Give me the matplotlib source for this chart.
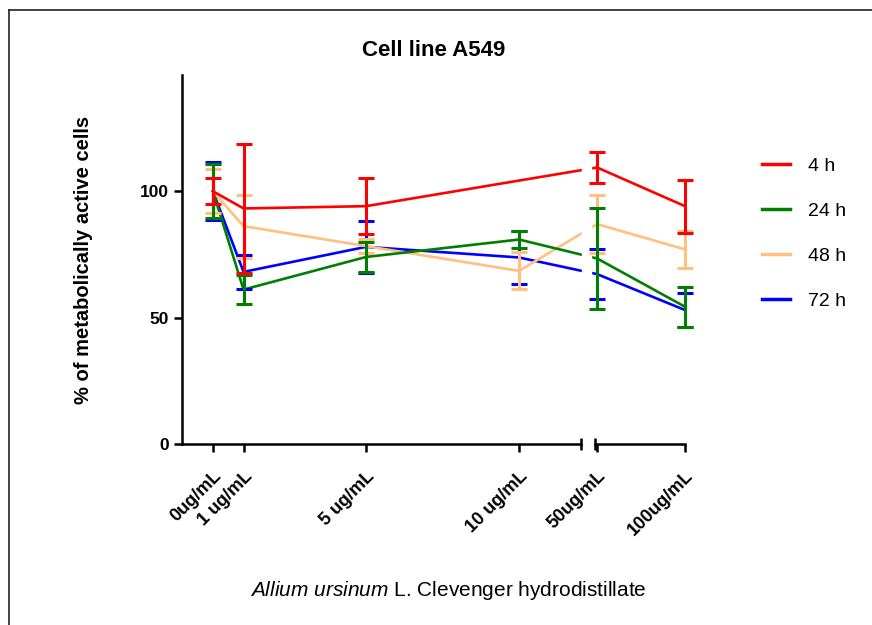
import matplotlib
matplotlib.use('Agg')
import matplotlib.pyplot as plt
import numpy as np
from matplotlib.lines import Line2D

plt.rcParams['font.family'] = ['Liberation Sans', 'DejaVu Sans']
plt.rcParams['mathtext.fontset'] = 'custom'
plt.rcParams['mathtext.it'] = 'Liberation Sans:italic'
plt.rcParams['mathtext.rm'] = 'Liberation Sans'

# Data
conc = [0, 1, 5, 10, 50, 100]
tick_labels = ['0ug/mL', '1 ug/mL', '5 ug/mL', '10 ug/mL', '50ug/mL', '100ug/mL']
series = ['4 h', '24 h', '48 h', '72 h']
colors = ['#FF0000', '#007F00', '#FFC080', '#0000FF']

mean_4h = [100, 93.2, 94.1, np.nan, 109.4, 94.1]
sd_4h = [5.1, 25.4, 11.0, np.nan, 6.1, 10.5]
mean_24h = [100, 61.1, 74.0, 80.9, 73.4, 54.3]
sd_24h = [10.6, 5.8, 5.8, 3.5, 20.0, 7.9]
mean_48h = [100, 86.2, 78.3, 68.5, 87.0, 77.0]
sd_48h = [8.7, 12.5, 2.8, 7.3, 11.5, 7.2]
mean_72h = [100, 68.1, 78.0, 73.8, 67.2, 53.0]
sd_72h = [11.4, 6.6, 10.2, 10.4, 10.0, 6.6]

means = [mean_4h, mean_24h, mean_48h, mean_72h]
sds = [sd_4h, sd_24h, sd_48h, sd_72h]


# broken x scale: linear up to 10, squeezed afterwards
def fwd(x):
    x = np.asarray(x, dtype=float)
    return np.where(x <= 10, x,
                    np.where(x <= 50, 10 + (x - 10) * (2.55 / 40),
                             12.55 + (x - 50) * (2.87 / 50)))


def inv(u):
    u = np.asarray(u, dtype=float)
    return np.where(u <= 10, u,
                    np.where(u <= 12.55, 10 + (u - 10) * (40 / 2.55),
                             50 + (u - 12.55) * (50 / 2.87)))


fig = plt.figure(figsize=(8.72, 6.25), dpi=100)
ax = fig.add_axes([182 / 872, 1 - 444 / 625, (685 - 182) / 872, (444 - 75) / 625])
ax.set_xscale('function', functions=(fwd, inv))
ax.set_xlim(-1.01, 100)
ax.set_ylim(0, 146)

brk_l = float(inv(12.03))
brk_r = float(inv(12.48))

# plot in reverse so red ends on top
for i in range(3, -1, -1):
    x = np.array(conc, dtype=float)
    m = np.array(means[i])
    s = np.array(sds[i])
    ok = ~np.isnan(m)
    ax.plot(x[ok], m[ok], color=colors[i], lw=1.9, zorder=2 + i * -0.01 + 0.1,
            clip_on=False, label=series[i])
    ax.errorbar(x[ok], m[ok], yerr=s[ok], fmt='none', ecolor=colors[i],
                elinewidth=2.2, capsize=6, capthick=2.2, zorder=4 - i * 0.01,
                clip_on=False)

# white gap across the break
ax.axvspan(brk_l + 0.3, float(inv(12.35)), color='white', zorder=3)

# spines
for sp in ['top', 'right']:
    ax.spines[sp].set_visible(False)
ax.spines['left'].set_linewidth(1.8)
ax.spines['bottom'].set_linewidth(1.8)
ax.spines['bottom'].set_bounds(-1.01, brk_l)
ax.plot([brk_r, 100], [0, 0], color='black', lw=1.8, clip_on=False, zorder=5)
ax.plot([brk_l, brk_r], [0, 0], ls='none', marker='|', ms=8, mew=1.8,
        color='black', clip_on=False, zorder=5)

ax.set_yticks([0, 50, 100])
ax.set_yticklabels(['0', '50', '100'], fontsize=12.5, fontweight='bold')
ax.set_xticks(conc)
ax.set_xticklabels(tick_labels, fontsize=13, fontweight='bold', rotation=45,
                   ha='right', va='top', rotation_mode='anchor')
ax.minorticks_off()
ax.tick_params(axis='both', length=6, width=1.8, direction='out')
ax.tick_params(axis='x', pad=11)

ax.set_ylabel('% of metabolically active cells', fontsize=14.5, fontweight='bold',
              labelpad=34)
ax.set_title('Cell line A549', fontsize=16, fontweight='bold', pad=14)
fig.text(448 / 872, 1 - 590 / 625,
         r'$\mathit{Allium\ ursinum}$ L. Clevenger hydrodistillate',
         fontsize=15, ha='center', va='center')

handles = [Line2D([0], [0], color=c, lw=2.5) for c in colors]
fig.legend(handles, series, loc='upper left', frameon=False,
           bbox_to_anchor=(762 / 872, 1 - 157 / 625), fontsize=14,
           handlelength=1.45, handletextpad=0.9, labelspacing=1.42,
           borderpad=0, borderaxespad=0)

# partial border of the original image
fig.add_artist(Line2D([9 / 872, 1], [1 - 10 / 625, 1 - 10 / 625], color='#222222', lw=1.2))
fig.add_artist(Line2D([9 / 872, 9 / 872], [0, 1 - 10 / 625], color='#222222', lw=1.2))

fig.savefig('out.png', dpi=100, facecolor='white')
